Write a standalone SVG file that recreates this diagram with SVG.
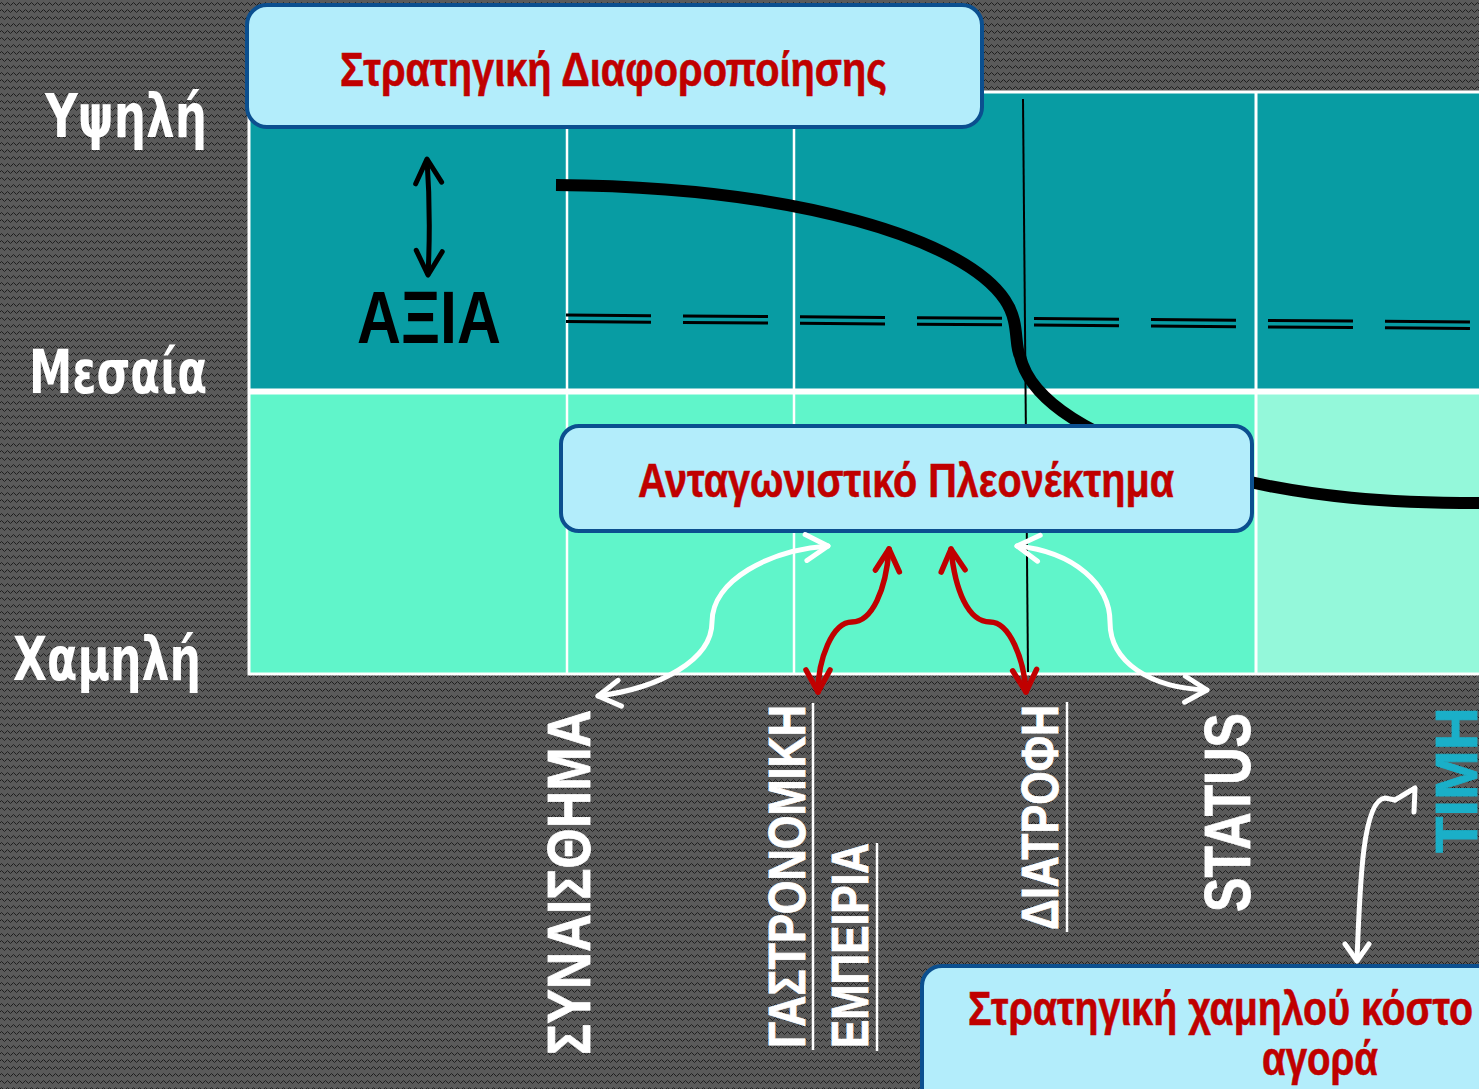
<svg xmlns="http://www.w3.org/2000/svg" width="1479" height="1089" viewBox="0 0 1479 1089">
<style>
.lbl{font-family:"DejaVu Sans Condensed","DejaVu Sans",sans-serif;font-weight:bold;fill:#ffffff;font-size:60px}
.box{fill:#b3edfb;stroke:#0b4f8f;stroke-width:4}
.boxtxt{font-family:"Liberation Sans",Arial,sans-serif;font-weight:bold;fill:#c00000;font-size:48px;stroke:#c00000;stroke-width:0.6}
.vt{font-family:"Liberation Sans",Arial,sans-serif;font-weight:bold;fill:#ffffff;stroke:#ffffff;stroke-width:0.8}
.grid{stroke:#ffffff;fill:none}
.wa{fill:none;stroke:#ffffff;stroke-width:5;stroke-linecap:round}
.ra{fill:none;stroke:#c00000;stroke-width:5.5;stroke-linecap:round}
.ul{stroke:#ffffff;stroke-width:2.5}
</style>
<defs>
<pattern id="bg" width="6" height="7" patternUnits="userSpaceOnUse">
<rect width="6" height="7" fill="#5a5a5a"/>
<polyline points="0,4 1.5,2.5 3,4 4.5,5.5 6,4" fill="none" stroke="#1e1e1e" stroke-width="1"/>
</pattern>
<marker id="mw" markerUnits="userSpaceOnUse" markerWidth="60" markerHeight="60" refX="0" refY="0" orient="auto-start-reverse" viewBox="-30 -30 60 60" overflow="visible">
<path d="M-22,-13 L0,0 L-22,13" fill="none" stroke="#ffffff" stroke-width="5" stroke-linecap="round" stroke-linejoin="round"/>
</marker>
<marker id="mr" markerUnits="userSpaceOnUse" markerWidth="60" markerHeight="60" refX="0" refY="0" orient="auto-start-reverse" viewBox="-30 -30 60 60" overflow="visible">
<path d="M-22,-12 L0,0 L-22,12" fill="none" stroke="#c00000" stroke-width="5.5" stroke-linecap="round" stroke-linejoin="round"/>
</marker>
<marker id="mk" markerUnits="userSpaceOnUse" markerWidth="60" markerHeight="60" refX="0" refY="0" orient="auto-start-reverse" viewBox="-30 -30 60 60" overflow="visible">
<path d="M-24,-13 L0,0 L-24,13" fill="none" stroke="#000000" stroke-width="5" stroke-linecap="round" stroke-linejoin="round"/>
</marker>
</defs>

<rect x="0" y="0" width="1479" height="1089" fill="url(#bg)"/>

<g id="chart">
<rect x="249" y="92" width="1240" height="297" fill="#089ca3"/>
<rect x="249" y="394" width="1240" height="280" fill="#60f5ca"/>
<rect x="1257" y="394" width="232" height="280" fill="#94f8da"/>
<rect x="249" y="92" width="1240" height="582" class="grid" stroke-width="3"/>
<line x1="249" y1="391.5" x2="1479" y2="391.5" class="grid" stroke-width="6"/>
<line x1="567" y1="92" x2="567" y2="674" class="grid" stroke-width="2.5"/>
<line x1="794" y1="92" x2="794" y2="674" class="grid" stroke-width="2.5"/>
<line x1="1256" y1="92" x2="1256" y2="674" class="grid" stroke-width="3"/>
<line x1="566" y1="315" x2="1479" y2="322" stroke="#000" stroke-width="3" stroke-dasharray="85 32"/>
<line x1="566" y1="321.5" x2="1479" y2="328.5" stroke="#000" stroke-width="3" stroke-dasharray="85 32"/>
<path d="M556,185 C800,187 965,240 1005,300 C1020,322 1014,345 1020,356 C1030,400 1090,440 1200,470 S1400,503 1479,503" fill="none" stroke="#000" stroke-width="12"/>
<line x1="1023" y1="99" x2="1028" y2="672" stroke="#000" stroke-width="2"/>
</g>

<g id="axis-labels">
<text class="lbl" x="45" y="137" textLength="162" lengthAdjust="spacingAndGlyphs">Υψηλή</text>
<text class="lbl" x="29" y="393" textLength="178" lengthAdjust="spacingAndGlyphs">Μεσαία</text>
<text class="lbl" x="13" y="680" textLength="188" lengthAdjust="spacingAndGlyphs">Χαμηλή</text>
</g>

<g id="value">
<path d="M427,159 Q431,217 428,275" fill="none" stroke="#000" stroke-width="5" marker-start="url(#mk)" marker-end="url(#mk)"/>
<text x="357" y="343" font-family="Liberation Sans, Arial, sans-serif" font-weight="bold" font-size="74" fill="#000" textLength="144" lengthAdjust="spacingAndGlyphs">ΑΞΙΑ</text>
</g>

<g id="box-differentiation">
<rect class="box" x="247" y="5" width="735" height="122" rx="20"/>
<text class="boxtxt" x="340" y="86" textLength="547" lengthAdjust="spacingAndGlyphs">Στρατηγική Διαφοροποίησης</text>
</g>

<g id="box-advantage">
<rect class="box" x="561" y="426" width="691" height="105" rx="18"/>
<text class="boxtxt" x="638" y="497" textLength="536" lengthAdjust="spacingAndGlyphs">Ανταγωνιστικό Πλεονέκτημα</text>
</g>

<g id="box-lowcost">
<rect class="box" x="922" y="966" width="600" height="200" rx="20"/>
<text class="boxtxt" x="968" y="1025" textLength="505" lengthAdjust="spacingAndGlyphs">Στρατηγική χαμηλού κόστο</text>
<text class="boxtxt" x="1262" y="1075" textLength="116" lengthAdjust="spacingAndGlyphs">αγορά</text>
</g>

<g id="factor-labels">
<text class="vt" font-size="62" transform="translate(590,1055) rotate(-90)" textLength="345" lengthAdjust="spacingAndGlyphs">ΣΥΝΑΙΣΘΗΜΑ</text>
<text class="vt" font-size="52" transform="translate(805,1048) rotate(-90)" textLength="343" lengthAdjust="spacingAndGlyphs">ΓΑΣΤΡΟΝΟΜΙΚΗ</text>
<line class="ul" x1="813" y1="703" x2="813" y2="1050"/>
<text class="vt" font-size="52" transform="translate(868,1048) rotate(-90)" textLength="205" lengthAdjust="spacingAndGlyphs">ΕΜΠΕΙΡΙΑ</text>
<line class="ul" x1="877" y1="843" x2="877" y2="1051"/>
<text class="vt" font-size="52" transform="translate(1058,930) rotate(-90)" textLength="225" lengthAdjust="spacingAndGlyphs">ΔΙΑΤΡΟΦΗ</text>
<line class="ul" x1="1067" y1="702" x2="1067" y2="932"/>
<text class="vt" font-size="64" transform="translate(1250,912) rotate(-90)" textLength="199" lengthAdjust="spacingAndGlyphs">STATUS</text>
<text class="vt" font-size="60" style="fill:#1aafc8;stroke:#1aafc8" transform="translate(1477,853) rotate(-90)" textLength="146" lengthAdjust="spacingAndGlyphs">ΤΙΜΗ</text>
</g>

<g id="connectors">
<path class="wa" d="M598,696 C660,688 712,660 712,622 C712,580 770,550 828,546" marker-start="url(#mw)" marker-end="url(#mw)"/>
<path class="wa" d="M1017,546 C1075,552 1110,585 1110,622 C1110,662 1150,688 1207,690" marker-start="url(#mw)" marker-end="url(#mw)"/>
<path class="ra" d="M889,549 C886,590 872,622 852,622 C832,622 818,660 818,692" marker-start="url(#mr)" marker-end="url(#mr)"/>
<path class="ra" d="M951,549 C955,590 968,622 990,622 C1010,622 1024,660 1026,692" marker-start="url(#mr)" marker-end="url(#mr)"/>
<path class="wa" d="M1357,960 C1360,880 1363,800 1385,798 L1395,800" stroke-linejoin="round"/>
<path class="wa" d="M1395,800 L1415,788 L1414,812" stroke-linejoin="round"/>
<path class="wa" d="M1345,944 L1357,961 L1369,944" stroke-linejoin="round"/>
</g>
</svg>
